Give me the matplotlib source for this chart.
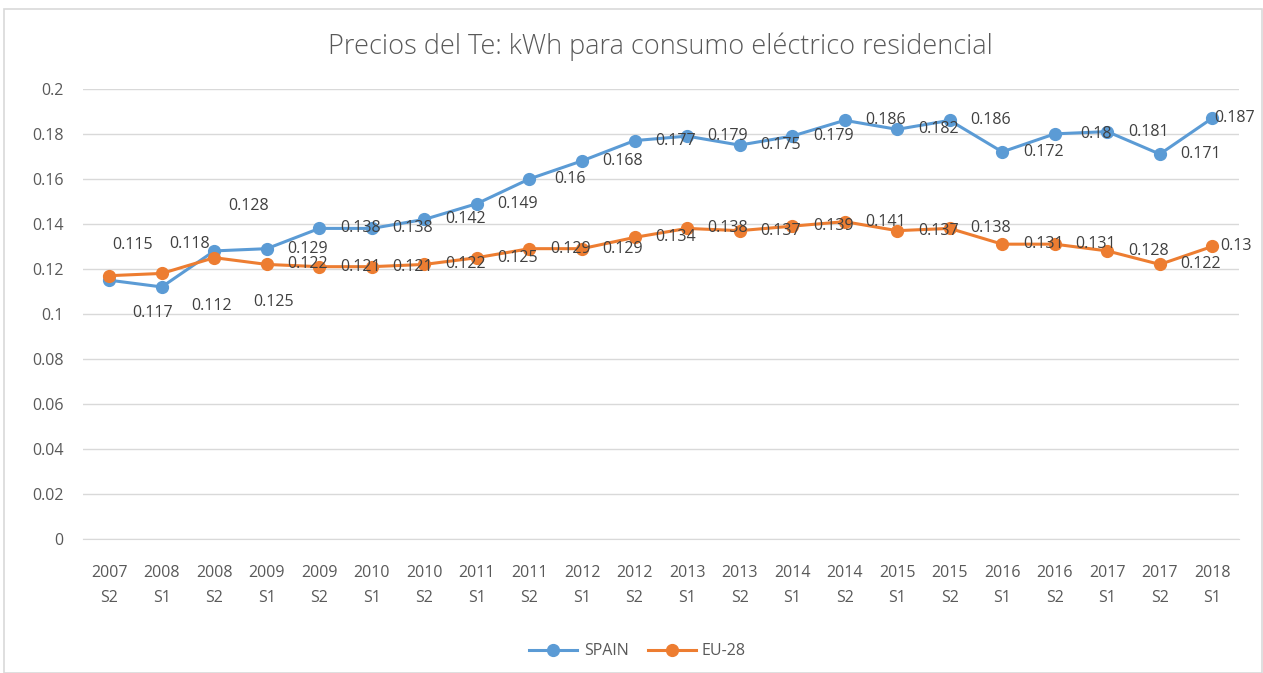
import matplotlib.pyplot as plt
from matplotlib.patches import Rectangle

periods = ["2007\nS2", "2008\nS1", "2008\nS2", "2009\nS1", "2009\nS2", "2010\nS1",
           "2010\nS2", "2011\nS1", "2011\nS2", "2012\nS1", "2012\nS2", "2013\nS1",
           "2013\nS2", "2014\nS1", "2014\nS2", "2015\nS1", "2015\nS2", "2016\nS1",
           "2016\nS2", "2017\nS1", "2017\nS2", "2018\nS1"]
spain = [0.115, 0.112, 0.128, 0.129, 0.138, 0.138, 0.142, 0.149, 0.16, 0.168, 0.177,
         0.179, 0.175, 0.179, 0.186, 0.182, 0.186, 0.172, 0.18, 0.181, 0.171, 0.187]
eu28 = [0.117, 0.118, 0.125, 0.122, 0.121, 0.121, 0.122, 0.125, 0.129, 0.129, 0.134,
        0.138, 0.137, 0.139, 0.141, 0.137, 0.138, 0.131, 0.131, 0.128, 0.122, 0.13]

blue = "#5B9BD5"
orange = "#ED7D31"
txt = "#595959"
lbl = "#404040"

plt.rcParams["font.family"] = ["Open Sans", "DejaVu Sans"]

fig = plt.figure(figsize=(12.63, 6.73), dpi=100)
fig.patches.append(Rectangle((0.003, 0.0), 0.996, 0.987, transform=fig.transFigure,
                             fill=False, edgecolor="#D9D9D9", linewidth=1.2))
ax = fig.add_axes([0.0657, 0.199, 0.915, 0.669])

x = list(range(len(periods)))
ax.plot(x, spain, color=blue, lw=2.2, marker="o", ms=8.5, label="SPAIN", zorder=3)
ax.plot(x, eu28, color=orange, lw=2.2, marker="o", ms=8.5, label="EU-28", zorder=3)

# data labels: mostly to the right of the point, a few nudged like in the original
spain_off = {0: (17, 25), 1: (36, -14), 2: (25, 32), 21: (16, 0)}
eu_off = {0: (31, -27), 1: (20, 21), 2: (43, -32), 21: (17, 0)}
for i, v in enumerate(spain):
    dx, dy = spain_off.get(i, (29.5, 0))
    ax.annotate("{:g}".format(v), (i, v), xytext=(dx, dy), textcoords="offset points",
                ha="center", va="center", fontsize=11.5, color=lbl, zorder=4)
for i, v in enumerate(eu28):
    dx, dy = eu_off.get(i, (29.5, 0))
    ax.annotate("{:g}".format(v), (i, v), xytext=(dx, dy), textcoords="offset points",
                ha="center", va="center", fontsize=11.5, color=lbl, zorder=4)

ax.set_xlim(-0.5, len(periods) - 0.5)
ax.set_ylim(0, 0.2)
ax.set_yticks([0, 0.02, 0.04, 0.06, 0.08, 0.1, 0.12, 0.14, 0.16, 0.18, 0.2])
ax.set_yticklabels(["0", "0.02", "0.04", "0.06", "0.08", "0.1", "0.12", "0.14",
                    "0.16", "0.18", "0.2"])
ax.set_xticks(x)
ax.set_xticklabels(periods, linespacing=1.75)
ax.tick_params(axis="both", length=0, labelsize=11.5, colors=txt)
ax.tick_params(axis="x", pad=19)
ax.tick_params(axis="y", pad=14)
ax.grid(axis="y", color="#D9D9D9", lw=1)
ax.set_axisbelow(True)
for s in ["top", "right", "left"]:
    ax.spines[s].set_visible(False)
ax.spines["bottom"].set_color("#D9D9D9")

ax.set_title("Precios del Te: kWh para consumo eléctrico residencial", fontsize=19.5,
             color=txt, pad=25, fontweight="light")
ax.legend(loc="upper center", bbox_to_anchor=(0.48, -0.2), ncol=2, frameon=False,
          fontsize=11.5, labelcolor=txt, handlelength=3, columnspacing=1.2,
          handletextpad=0.4)

fig.savefig("out.png", dpi=100)
